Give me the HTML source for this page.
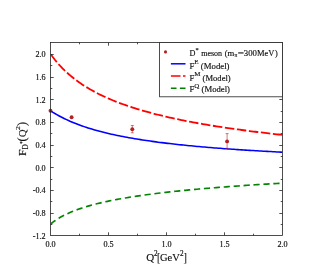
<!DOCTYPE html>
<html><head><meta charset="utf-8">
<style>
html,body{margin:0;padding:0;background:#fff;}
body{width:334px;height:278px;overflow:hidden;}
svg{display:block;will-change:transform;opacity:0.999;}
text{font-family:"Liberation Serif",serif;fill:#111;stroke:#111;stroke-width:0.15px;}
</style></head>
<body>
<svg width="334" height="278" viewBox="0 0 334 278">
<rect width="334" height="278" fill="#fff"/>
<defs><clipPath id="c"><rect x="50.5" y="42.5" width="232.0" height="193.0"/></clipPath></defs>
<g clip-path="url(#c)" fill="none">
<path d="M51.00,223.73 L52.95,222.18 L54.89,220.76 L56.84,219.45 L58.78,218.23 L60.73,217.09 L62.68,216.02 L64.62,215.01 L66.57,214.06 L68.52,213.16 L70.46,212.31 L72.41,211.50 L74.35,210.73 L76.30,209.99 L78.25,209.28 L80.19,208.61 L82.14,207.96 L84.09,207.34 L86.03,206.74 L87.98,206.16 L89.92,205.60 L91.87,205.07 L93.82,204.55 L95.76,204.05 L97.71,203.56 L99.66,203.09 L101.60,202.63 L103.55,202.19 L105.49,201.75 L107.44,201.33 L109.39,200.93 L111.33,200.53 L113.28,200.14 L115.23,199.77 L117.17,199.40 L119.12,199.04 L121.06,198.69 L123.01,198.35 L124.96,198.01 L126.90,197.69 L128.85,197.37 L130.79,197.06 L132.74,196.75 L134.69,196.45 L136.63,196.16 L138.58,195.87 L140.53,195.59 L142.47,195.31 L144.42,195.04 L146.36,194.78 L148.31,194.51 L150.26,194.26 L152.20,194.01 L154.15,193.76 L156.10,193.52 L158.04,193.28 L159.99,193.04 L161.93,192.81 L163.88,192.59 L165.83,192.36 L167.77,192.14 L169.72,191.93 L171.67,191.71 L173.61,191.50 L175.56,191.30 L177.50,191.09 L179.45,190.89 L181.40,190.70 L183.34,190.50 L185.29,190.31 L187.24,190.12 L189.18,189.94 L191.13,189.75 L193.07,189.57 L195.02,189.39 L196.97,189.21 L198.91,189.04 L200.86,188.87 L202.81,188.70 L204.75,188.53 L206.70,188.36 L208.64,188.20 L210.59,188.04 L212.54,187.88 L214.48,187.72 L216.43,187.57 L218.37,187.41 L220.32,187.26 L222.27,187.11 L224.21,186.96 L226.16,186.81 L228.11,186.67 L230.05,186.52 L232.00,186.38 L233.94,186.24 L235.89,186.10 L237.84,185.96 L239.78,185.83 L241.73,185.69 L243.68,185.56 L245.62,185.43 L247.57,185.30 L249.51,185.17 L251.46,185.04 L253.41,184.91 L255.35,184.79 L257.30,184.66 L259.25,184.54 L261.19,184.42 L263.14,184.30 L265.08,184.18 L267.03,184.06 L268.98,183.94 L270.92,183.83 L272.87,183.71 L274.82,183.60 L276.76,183.48 L278.71,183.37 L280.65,183.26 L282.60,183.15" stroke="#048404" stroke-width="1.65" stroke-dasharray="6.2 3.75" stroke-dashoffset="0.6"/>
<path d="M51.00,111.03 L52.95,112.28 L54.89,113.48 L56.84,114.62 L58.78,115.72 L60.73,116.77 L62.68,117.78 L64.62,118.74 L66.57,119.67 L68.52,120.56 L70.46,121.42 L72.41,122.25 L74.35,123.05 L76.30,123.82 L78.25,124.56 L80.19,125.28 L82.14,125.97 L84.09,126.64 L86.03,127.29 L87.98,127.92 L89.92,128.52 L91.87,129.11 L93.82,129.69 L95.76,130.24 L97.71,130.78 L99.66,131.30 L101.60,131.81 L103.55,132.31 L105.49,132.79 L107.44,133.25 L109.39,133.71 L111.33,134.15 L113.28,134.58 L115.23,135.00 L117.17,135.41 L119.12,135.81 L121.06,136.20 L123.01,136.58 L124.96,136.96 L126.90,137.32 L128.85,137.67 L130.79,138.02 L132.74,138.36 L134.69,138.69 L136.63,139.01 L138.58,139.33 L140.53,139.64 L142.47,139.94 L144.42,140.23 L146.36,140.52 L148.31,140.81 L150.26,141.09 L152.20,141.36 L154.15,141.63 L156.10,141.89 L158.04,142.15 L159.99,142.40 L161.93,142.64 L163.88,142.89 L165.83,143.12 L167.77,143.36 L169.72,143.59 L171.67,143.81 L173.61,144.03 L175.56,144.25 L177.50,144.46 L179.45,144.67 L181.40,144.88 L183.34,145.08 L185.29,145.28 L187.24,145.47 L189.18,145.67 L191.13,145.85 L193.07,146.04 L195.02,146.22 L196.97,146.40 L198.91,146.58 L200.86,146.75 L202.81,146.93 L204.75,147.09 L206.70,147.26 L208.64,147.42 L210.59,147.58 L212.54,147.74 L214.48,147.90 L216.43,148.05 L218.37,148.21 L220.32,148.35 L222.27,148.50 L224.21,148.65 L226.16,148.79 L228.11,148.93 L230.05,149.07 L232.00,149.21 L233.94,149.34 L235.89,149.48 L237.84,149.61 L239.78,149.74 L241.73,149.87 L243.68,149.99 L245.62,150.12 L247.57,150.24 L249.51,150.36 L251.46,150.48 L253.41,150.60 L255.35,150.72 L257.30,150.83 L259.25,150.95 L261.19,151.06 L263.14,151.17 L265.08,151.28 L267.03,151.39 L268.98,151.49 L270.92,151.60 L272.87,151.70 L274.82,151.81 L276.76,151.91 L278.71,152.01 L280.65,152.11 L282.60,152.21" stroke="#0000ff" stroke-width="1.55"/>
<path d="M51.00,54.57 L52.95,57.24 L54.89,59.75 L56.84,62.12 L58.78,64.36 L60.73,66.49 L62.68,68.51 L64.62,70.44 L66.57,72.27 L68.52,74.02 L70.46,75.69 L72.41,77.30 L74.35,78.84 L76.30,80.31 L78.25,81.73 L80.19,83.10 L82.14,84.41 L84.09,85.68 L86.03,86.90 L87.98,88.09 L89.92,89.23 L91.87,90.33 L93.82,91.41 L95.76,92.44 L97.71,93.45 L99.66,94.43 L101.60,95.37 L103.55,96.29 L105.49,97.19 L107.44,98.06 L109.39,98.91 L111.33,99.73 L113.28,100.54 L115.23,101.32 L117.17,102.08 L119.12,102.83 L121.06,103.56 L123.01,104.27 L124.96,104.96 L126.90,105.64 L128.85,106.30 L130.79,106.95 L132.74,107.59 L134.69,108.21 L136.63,108.81 L138.58,109.41 L140.53,109.99 L142.47,110.56 L144.42,111.12 L146.36,111.67 L148.31,112.21 L150.26,112.74 L152.20,113.25 L154.15,113.76 L156.10,114.26 L158.04,114.75 L159.99,115.23 L161.93,115.70 L163.88,116.17 L165.83,116.62 L167.77,117.07 L169.72,117.51 L171.67,117.95 L173.61,118.38 L175.56,118.80 L177.50,119.21 L179.45,119.62 L181.40,120.02 L183.34,120.41 L185.29,120.80 L187.24,121.18 L189.18,121.56 L191.13,121.93 L193.07,122.29 L195.02,122.65 L196.97,123.01 L198.91,123.36 L200.86,123.70 L202.81,124.04 L204.75,124.38 L206.70,124.71 L208.64,125.04 L210.59,125.36 L212.54,125.68 L214.48,125.99 L216.43,126.30 L218.37,126.61 L220.32,126.91 L222.27,127.21 L224.21,127.50 L226.16,127.79 L228.11,128.08 L230.05,128.36 L232.00,128.64 L233.94,128.92 L235.89,129.19 L237.84,129.46 L239.78,129.73 L241.73,129.99 L243.68,130.26 L245.62,130.51 L247.57,130.77 L249.51,131.02 L251.46,131.27 L253.41,131.52 L255.35,131.76 L257.30,132.00 L259.25,132.24 L261.19,132.48 L263.14,132.71 L265.08,132.94 L267.03,133.17 L268.98,133.40 L270.92,133.62 L272.87,133.84 L274.82,134.06 L276.76,134.28 L278.71,134.50 L280.65,134.71 L282.60,134.92" stroke="#ff0000" stroke-width="1.8" stroke-dasharray="9.5 2.6"/>
</g>
<circle cx="50.5" cy="110.8" r="1.95" fill="#b22222"/><circle cx="71.6" cy="117.2" r="1.95" fill="#b22222"/><line x1="132.3" y1="125.5" x2="132.3" y2="132.8" stroke="#b22222" stroke-width="0.6"/><line x1="130.8" y1="125.5" x2="133.8" y2="125.5" stroke="#b22222" stroke-width="0.6"/><line x1="130.8" y1="132.8" x2="133.8" y2="132.8" stroke="#b22222" stroke-width="0.6"/><circle cx="132.3" cy="129.2" r="1.95" fill="#b22222"/><line x1="227.1" y1="133.6" x2="227.1" y2="148.3" stroke="#b22222" stroke-width="0.6"/><line x1="225.6" y1="133.6" x2="228.6" y2="133.6" stroke="#b22222" stroke-width="0.6"/><line x1="225.6" y1="148.3" x2="228.6" y2="148.3" stroke="#b22222" stroke-width="0.6"/><circle cx="227.1" cy="141.4" r="1.95" fill="#b22222"/>
<g stroke="#222" stroke-width="0.8" fill="none">
<rect x="50.5" y="42.5" width="232.0" height="193.0"/>
<line x1="79.50" y1="235.5" x2="79.50" y2="233.7"/><line x1="79.50" y1="42.5" x2="79.50" y2="44.3"/><line x1="108.50" y1="235.5" x2="108.50" y2="232.3"/><line x1="108.50" y1="42.5" x2="108.50" y2="45.7"/><line x1="137.50" y1="235.5" x2="137.50" y2="233.7"/><line x1="137.50" y1="42.5" x2="137.50" y2="44.3"/><line x1="166.50" y1="235.5" x2="166.50" y2="232.3"/><line x1="166.50" y1="42.5" x2="166.50" y2="45.7"/><line x1="195.50" y1="235.5" x2="195.50" y2="233.7"/><line x1="195.50" y1="42.5" x2="195.50" y2="44.3"/><line x1="224.50" y1="235.5" x2="224.50" y2="232.3"/><line x1="224.50" y1="42.5" x2="224.50" y2="45.7"/><line x1="253.50" y1="235.5" x2="253.50" y2="233.7"/><line x1="253.50" y1="42.5" x2="253.50" y2="44.3"/><line x1="50.5" y1="224.50" x2="52.3" y2="224.50"/><line x1="282.5" y1="224.50" x2="280.7" y2="224.50"/><line x1="50.5" y1="213.50" x2="53.7" y2="213.50"/><line x1="282.5" y1="213.50" x2="279.3" y2="213.50"/><line x1="50.5" y1="201.50" x2="52.3" y2="201.50"/><line x1="282.5" y1="201.50" x2="280.7" y2="201.50"/><line x1="50.5" y1="190.50" x2="53.7" y2="190.50"/><line x1="282.5" y1="190.50" x2="279.3" y2="190.50"/><line x1="50.5" y1="179.50" x2="52.3" y2="179.50"/><line x1="282.5" y1="179.50" x2="280.7" y2="179.50"/><line x1="50.5" y1="167.50" x2="53.7" y2="167.50"/><line x1="282.5" y1="167.50" x2="279.3" y2="167.50"/><line x1="50.5" y1="156.50" x2="52.3" y2="156.50"/><line x1="282.5" y1="156.50" x2="280.7" y2="156.50"/><line x1="50.5" y1="145.50" x2="53.7" y2="145.50"/><line x1="282.5" y1="145.50" x2="279.3" y2="145.50"/><line x1="50.5" y1="133.50" x2="52.3" y2="133.50"/><line x1="282.5" y1="133.50" x2="280.7" y2="133.50"/><line x1="50.5" y1="122.50" x2="53.7" y2="122.50"/><line x1="282.5" y1="122.50" x2="279.3" y2="122.50"/><line x1="50.5" y1="111.50" x2="52.3" y2="111.50"/><line x1="282.5" y1="111.50" x2="280.7" y2="111.50"/><line x1="50.5" y1="99.50" x2="53.7" y2="99.50"/><line x1="282.5" y1="99.50" x2="279.3" y2="99.50"/><line x1="50.5" y1="88.50" x2="52.3" y2="88.50"/><line x1="282.5" y1="88.50" x2="280.7" y2="88.50"/><line x1="50.5" y1="77.50" x2="53.7" y2="77.50"/><line x1="282.5" y1="77.50" x2="279.3" y2="77.50"/><line x1="50.5" y1="65.50" x2="52.3" y2="65.50"/><line x1="282.5" y1="65.50" x2="280.7" y2="65.50"/><line x1="50.5" y1="54.50" x2="53.7" y2="54.50"/><line x1="282.5" y1="54.50" x2="279.3" y2="54.50"/>
</g>
<!-- legend -->
<rect x="159.6" y="42.5" width="122.9" height="54.3" fill="#fff" stroke="#222" stroke-width="0.8"/>
<circle cx="165.5" cy="51.9" r="1.55" fill="#b22222"/>
<line x1="170.9" y1="63.8" x2="185.5" y2="63.8" stroke="#0000ff" stroke-width="1.5"/>
<line x1="170.9" y1="76.0" x2="185.5" y2="76.0" stroke="#ff0000" stroke-width="1.5" stroke-dasharray="9.6 2.5 2.5 2.5"/>
<line x1="170.9" y1="88.2" x2="185.5" y2="88.2" stroke="#008000" stroke-width="1.5" stroke-dasharray="5.6 3.4"/>
<g font-size="8.2">
<text x="189.5" y="56.0">D</text>
<text x="195.6" y="51.6" font-size="6.4">*</text>
<text x="201.2" y="56.0" textLength="20.9" lengthAdjust="spacingAndGlyphs">meson</text>
<text x="224.7" y="56.0">(</text>
<text x="227.4" y="56.0" textLength="6.8" lengthAdjust="spacingAndGlyphs">m</text>
<text x="234.4" y="57.3" font-size="5.4">π</text>
<text x="237.7" y="56.0" textLength="6.2" lengthAdjust="spacingAndGlyphs">=</text>
<text x="243.8" y="56.0" textLength="13.1" lengthAdjust="spacingAndGlyphs">300</text>
<text x="256.9" y="56.0" textLength="17.5" lengthAdjust="spacingAndGlyphs">MeV</text>
<text x="274.9" y="56.0">)</text>
<text x="189.5" y="68.6" textLength="40" lengthAdjust="spacingAndGlyphs">F<tspan dy="-4.3" font-size="6.6">E</tspan><tspan dy="4.3"> (Model)</tspan></text>
<text x="189.5" y="80.5" textLength="41.2" lengthAdjust="spacingAndGlyphs">F<tspan dy="-4.3" font-size="6.6">M</tspan><tspan dy="4.3"> (Model)</tspan></text>
<text x="189.5" y="92.3" textLength="40.5" lengthAdjust="spacingAndGlyphs">F<tspan dy="-4.3" font-size="6.6">Q</tspan><tspan dy="4.3"> (Model)</tspan></text>
</g>
<g font-size="7.3"><text x="45.40" y="246.5" textLength="10.2" lengthAdjust="spacingAndGlyphs">0.0</text><text x="103.40" y="246.5" textLength="10.2" lengthAdjust="spacingAndGlyphs">0.5</text><text x="161.40" y="246.5" textLength="10.2" lengthAdjust="spacingAndGlyphs">1.0</text><text x="219.40" y="246.5" textLength="10.2" lengthAdjust="spacingAndGlyphs">1.5</text><text x="277.40" y="246.5" textLength="10.2" lengthAdjust="spacingAndGlyphs">2.0</text><text x="35.50" y="57.25" textLength="10.2" lengthAdjust="spacingAndGlyphs">2.0</text><text x="35.50" y="79.96" textLength="10.2" lengthAdjust="spacingAndGlyphs">1.6</text><text x="35.50" y="102.66" textLength="10.2" lengthAdjust="spacingAndGlyphs">1.2</text><text x="35.50" y="125.37" textLength="10.2" lengthAdjust="spacingAndGlyphs">0.8</text><text x="35.50" y="148.08" textLength="10.2" lengthAdjust="spacingAndGlyphs">0.4</text><text x="35.50" y="170.78" textLength="10.2" lengthAdjust="spacingAndGlyphs">0.0</text><text x="32.80" y="193.49" textLength="12.9" lengthAdjust="spacingAndGlyphs">-0.4</text><text x="32.80" y="216.19" textLength="12.9" lengthAdjust="spacingAndGlyphs">-0.8</text><text x="32.80" y="238.90" textLength="12.9" lengthAdjust="spacingAndGlyphs">-1.2</text></g>
<g font-size="11">
<text x="146.2" y="261.1">Q</text>
<text x="154.1" y="256.1" font-size="7.2">2</text>
<text x="157.1" y="261.8" font-size="13.3" textLength="3.4" lengthAdjust="spacingAndGlyphs">[</text>
<text x="160.0" y="261.1" textLength="19.8" lengthAdjust="spacingAndGlyphs">GeV</text>
<text x="180.1" y="256.1" font-size="7.2">2</text>
<text x="183.6" y="261.8" font-size="13.3" textLength="3.4" lengthAdjust="spacingAndGlyphs">]</text>
</g>
<g transform="translate(25.8,155) rotate(-90)" font-size="10.8">
<text x="-1.1" y="0" textLength="6.6" lengthAdjust="spacingAndGlyphs">F</text>
<text x="5.4" y="2.2" font-size="7.2">D</text>
<text x="10.9" y="-2.0" font-size="5.5">*</text>
<text x="13.4" y="0" font-size="12.4">(</text>
<text x="18.0" y="0" font-size="10.4">Q</text>
<text x="25.0" y="-6.3" font-size="7" textLength="3.9" lengthAdjust="spacingAndGlyphs">2</text>
<text x="28.9" y="0" font-size="12.4">)</text>
</g>
</svg>
</body></html>
